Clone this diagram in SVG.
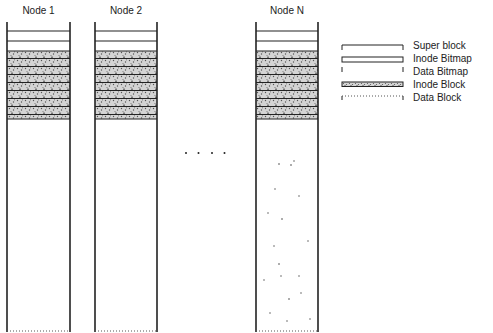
<svg xmlns="http://www.w3.org/2000/svg" width="493" height="333" viewBox="0 0 493 333">
  <defs>
    <pattern id="brick" x="0" y="51" width="8" height="8" patternUnits="userSpaceOnUse">
      <rect width="8" height="8" fill="#d4d4d4"/>
      <circle cx="1.5" cy="1.5" r="0.7" fill="#555"/>
      <circle cx="5.5" cy="3" r="0.7" fill="#555"/>
      <circle cx="3" cy="4.5" r="0.6" fill="#777"/>
      <circle cx="6.5" cy="0.8" r="0.6" fill="#777"/>
      <line x1="0" y1="7.5" x2="8" y2="7.5" stroke="#222" stroke-width="1"/>
      <line x1="4" y1="5.5" x2="4" y2="7.5" stroke="#222" stroke-width="1"/>
    </pattern>
    <pattern id="brickL" x="0" y="82" width="6" height="5" patternUnits="userSpaceOnUse">
      <rect width="6" height="5" fill="#d4d4d4"/>
      <circle cx="1.5" cy="1.5" r="0.6" fill="#555"/>
      <circle cx="4.5" cy="2.5" r="0.6" fill="#555"/>
      <line x1="3" y1="3" x2="3" y2="5" stroke="#333" stroke-width="0.8"/>
    </pattern>
  </defs>
  <style>
    .t { font-family: "Liberation Sans", Arial, sans-serif; font-size: 10px; fill: #222; }
    .v { stroke: #222; stroke-width: 1.6; fill: none; }
    .h { stroke: #222; stroke-width: 1.2; fill: none; }
    .dot { stroke: #555; stroke-width: 1; stroke-dasharray: 1 2; fill: none; }
    .lg { stroke: #222; stroke-width: 1; fill: none; }
  </style>
  <rect width="493" height="333" fill="#fff"/>

  <g id="node1">
    <text class="t" x="38.5" y="14" text-anchor="middle">Node 1</text>
    <rect x="7" y="51" width="63" height="68" fill="url(#brick)"/>
    <line class="v" x1="7" y1="22" x2="7" y2="332"/>
    <line class="v" x1="70" y1="22" x2="70" y2="332"/>
    <line class="h" x1="7" y1="31" x2="70" y2="31"/>
    <line class="h" x1="7" y1="41" x2="70" y2="41"/>
    <line class="h" x1="7" y1="51" x2="70" y2="51"/>
    <line class="h" x1="7" y1="119" x2="70" y2="119"/>
    <line class="dot" x1="7" y1="331" x2="70" y2="331"/>
  </g>

  <g id="node2">
    <text class="t" x="126" y="14" text-anchor="middle">Node 2</text>
    <rect x="95" y="51" width="62" height="68" fill="url(#brick)"/>
    <line class="v" x1="95" y1="22" x2="95" y2="332"/>
    <line class="v" x1="157" y1="22" x2="157" y2="332"/>
    <line class="h" x1="95" y1="31" x2="157" y2="31"/>
    <line class="h" x1="95" y1="41" x2="157" y2="41"/>
    <line class="h" x1="95" y1="51" x2="157" y2="51"/>
    <line class="h" x1="95" y1="119" x2="157" y2="119"/>
    <line class="dot" x1="95" y1="331" x2="157" y2="331"/>
  </g>

  <g id="ellipsis" fill="#222">
    <circle cx="186" cy="153" r="1"/>
    <circle cx="198.5" cy="153" r="1"/>
    <circle cx="212" cy="153" r="1"/>
    <circle cx="224.5" cy="153" r="1"/>
  </g>

  <g id="nodeN">
    <text class="t" x="287" y="14" text-anchor="middle">Node N</text>
    <rect x="256" y="51" width="62" height="68" fill="url(#brick)"/>
    <line class="v" x1="256" y1="22" x2="256" y2="332"/>
    <line class="v" x1="318" y1="22" x2="318" y2="332"/>
    <line class="h" x1="256" y1="31" x2="318" y2="31"/>
    <line class="h" x1="256" y1="41" x2="318" y2="41"/>
    <line class="h" x1="256" y1="51" x2="318" y2="51"/>
    <line class="h" x1="256" y1="119" x2="318" y2="119"/>
    <line class="dot" x1="256" y1="331" x2="318" y2="331"/>
    <g fill="#444">
      <circle cx="279" cy="164" r="0.8"/><circle cx="291" cy="165" r="0.8"/><circle cx="294" cy="161" r="0.7"/>
      <circle cx="275" cy="189" r="0.7"/><circle cx="268" cy="213" r="0.7"/><circle cx="282" cy="219" r="0.8"/>
      <circle cx="308" cy="241" r="0.7"/><circle cx="274" cy="246" r="0.7"/><circle cx="279" cy="264" r="0.8"/>
      <circle cx="264" cy="280" r="0.7"/><circle cx="299" cy="276" r="0.7"/><circle cx="301" cy="293" r="0.7"/>
      <circle cx="289" cy="299" r="0.8"/><circle cx="270" cy="313" r="0.7"/><circle cx="287" cy="321" r="0.7"/>
      <circle cx="310" cy="319" r="0.7"/><circle cx="281" cy="276" r="0.7"/><circle cx="299" cy="196" r="0.7"/>
    </g>
  </g>

  <g id="legend">
    <path class="lg" d="M342,50 V45 H403 V50"/>
    <text class="t" x="413" y="49">Super block</text>
    <rect class="lg" x="342" y="57" width="61" height="5"/>
    <text class="t" x="413" y="62">Inode Bitmap</text>
    <path class="lg" d="M342,67 V72 M403,67 V72"/>
    <text class="t" x="413" y="75">Data Bitmap</text>
    <rect x="342" y="82" width="61" height="4.5" fill="url(#brickL)" stroke="#222" stroke-width="1"/>
    <text class="t" x="413" y="88">Inode Block</text>
    <path class="lg" d="M342,100 V96 M403,100 V96"/>
    <line class="dot" x1="342" y1="96" x2="403" y2="96"/>
    <text class="t" x="413" y="101">Data Block</text>
  </g>
</svg>
